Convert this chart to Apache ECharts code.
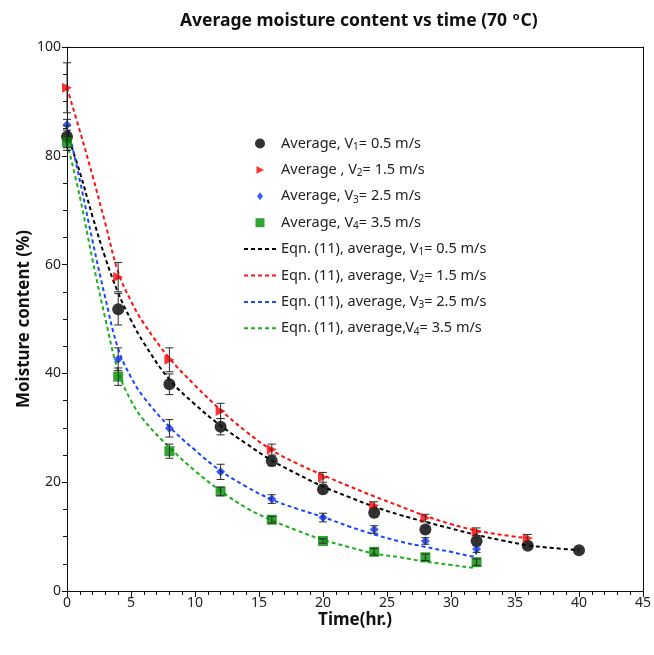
<!DOCTYPE html>
<html>
<head>
<meta charset="utf-8">
<script src="https://cdn.jsdelivr.net/npm/echarts@6/dist/echarts.min.js"></script>
<style>html,body{margin:0;padding:0;background:#fff;}#c{width:654px;height:655px;}</style>
</head>
<body>
<div id="c"></div>
<script>
// ---- measured data ----
const tV1 = [0, 4, 8, 12, 16, 20, 24, 28, 32, 36, 40];
const mV1 = [83.5, 51.8, 38.0, 30.2, 23.9, 18.7, 14.4, 11.3, 9.2, 8.3, 7.5];
const eV1 = [2.0, 2.9, 1.9, 1.5, 0.9, 0.8, 0.8, 0.5, 0.6, 0.4, 0.3];

const tV2 = [0, 4, 8, 12, 16, 20, 24, 28, 32, 36];
const mV2 = [92.5, 57.7, 42.5, 33.1, 26.0, 20.9, 15.7, 13.4, 10.9, 9.7];
const eV2 = [4.6, 2.7, 2.2, 1.4, 1.0, 0.9, 0.7, 0.7, 0.7, 0.7];

const tV3 = [0, 4, 8, 12, 16, 20, 24, 28, 32];
const mV3 = [85.7, 42.6, 29.9, 21.9, 16.9, 13.5, 11.3, 9.2, 7.7];
const eV3 = [1.0, 2.1, 1.6, 1.4, 0.8, 0.8, 0.7, 0.6, 0.6];

const tV4 = [0, 4, 8, 12, 16, 20, 24, 28, 32];
const mV4 = [82.5, 39.4, 25.7, 18.3, 13.1, 9.2, 7.2, 6.2, 5.3];
const eV4 = [1.5, 1.6, 1.3, 0.8, 0.6, 0.4, 0.6, 0.6, 0.6];

// ---- fitted curves (Eqn. 11) ----
const fT1 = [0, 1, 2, 3, 4, 5, 6, 8, 10, 12, 14, 16, 18, 20, 22, 24, 26, 28, 30, 32, 34, 36, 38, 40];
const fV1 = [84.2, 77.0, 68.8, 61.2, 54.8, 49.8, 45.6, 38.9, 34.3, 30.4, 27.1, 24.0, 21.5, 19.2, 17.3, 15.5, 14.0, 12.7, 11.5, 10.3, 9.3, 8.4, 7.9, 7.5];

const fT2 = [0, 1, 2, 3, 4, 5, 6, 8, 10, 12, 14, 16, 18, 20, 22, 24, 26, 28, 30, 32, 34, 36];
const fV2 = [92.5, 84.6, 76.3, 67.5, 58.6, 53.3, 49.2, 42.8, 37.8, 33.3, 29.3, 25.9, 23.4, 21.3, 19.3, 17.4, 15.6, 13.8, 12.3, 11.1, 10.3, 9.7];

const fT3 = [0, 1, 2, 3, 4, 5, 6, 8, 10, 12, 14, 16, 18, 20, 22, 24, 26, 28, 30, 31.8, 32];
const fV3 = [86.0, 75.5, 64.3, 53.8, 44.5, 39.3, 35.6, 30.2, 25.9, 22.1, 19.2, 16.8, 15.1, 13.6, 11.9, 10.4, 9.1, 8.1, 7.2, 6.4, 7.7];

const fT4 = [0, 1, 2, 3, 4, 5, 6, 8, 10, 12, 14, 16, 18, 20, 22, 24, 26, 28, 30, 31.8, 32];
const fV4 = [82.5, 72.5, 60.8, 50.0, 40.4, 35.0, 31.4, 26.4, 22.1, 18.4, 15.3, 13.0, 11.1, 9.4, 8.1, 6.9, 6.2, 5.4, 4.8, 4.3, 5.3];

// ---- legend text pieces ----
const legPre  = ['Average, V', 'Average , V', 'Average, V', 'Average, V',
                 'Eqn. (11), average, V', 'Eqn. (11), average, V', 'Eqn. (11), average, V', 'Eqn. (11), average,V'];
const legSub  = ['1', '2', '3', '4', '1', '2', '3', '4'];
const legPost = ['= 0.5 m/s', '= 1.5 m/s', '= 2.5 m/s', '= 3.5 m/s', '= 0.5 m/s', '= 1.5 m/s', '= 2.5 m/s', '= 3.5 m/s'];
const names = legPre.map((p, i) => p + legSub[i] + legPost[i] + (i >= 4 ? ' ' : ''));

const FONT = 'Noto Sans';
const zip = (a, b) => a.map((v, i) => [v, b[i]]);
const errData = (t, m, e) => t.map((v, i) => [v, m[i] - e[i], m[i] + e[i]]);

function errRender(params, api) {
  const x = api.value(0), lo = api.value(1), hi = api.value(2);
  const p1 = api.coord([x, lo]), p2 = api.coord([x, hi]);
  const w = 4, st = {stroke: '#2a2a2a', lineWidth: 1};
  return {type: 'group', children: [
    {type: 'line', shape: {x1: p1[0], y1: p1[1], x2: p2[0], y2: p2[1]}, style: st},
    {type: 'line', shape: {x1: p1[0] - w, y1: p1[1], x2: p1[0] + w, y2: p1[1]}, style: st},
    {type: 'line', shape: {x1: p2[0] - w, y1: p2[1], x2: p2[0] + w, y2: p2[1]}, style: st}
  ]};
}

// legend icons (padded 12x12 boxes so they keep a small, square size)
const legIcons = [
  'path://M0,0M12,12M1,6A5,5,0,1,1,11,6A5,5,0,1,1,1,6Z',
  'path://M0,0M12,12M2.5,2.2L10,6L2.5,9.8Z',
  'path://M0,0M12,12M6,2L9,6L6,10L3,6Z',
  'path://M0,0M12,12M1.5,1.5L10.5,1.5L10.5,10.5L1.5,10.5Z'
];

const mk = [
  {t: tV1, m: mV1, e: eV1, color: '#000000', symbol: 'circle', size: 12, rot: 0},
  {t: tV2, m: mV2, e: eV2, color: '#ff0000', symbol: 'triangle', size: 10, rot: -90},
  {t: tV3, m: mV3, e: eV3, color: '#0a32ff', symbol: 'diamond', size: 9, rot: 0},
  {t: tV4, m: mV4, e: eV4, color: '#008c00', symbol: 'rect', size: 10, rot: 0}
];
const fits = [
  {t: fT1, v: fV1, color: '#000000'},
  {t: fT2, v: fV2, color: '#ff1010'},
  {t: fT3, v: fV3, color: '#1a46ff'},
  {t: fT4, v: fV4, color: '#1cb01c'}
];

const series = [];
fits.forEach((f, i) => {
  series.push({
    name: names[4 + i], type: 'line', data: zip(f.t, f.v), smooth: 0.4,
    symbol: 'none', z: 2,
    lineStyle: {color: f.color, width: 2, type: [4, 3]},
    itemStyle: {color: f.color}
  });
});
mk.forEach((s, i) => {
  series.push({
    name: names[i], type: 'scatter', data: zip(s.t, s.m), symbol: s.symbol,
    symbolSize: s.size, symbolRotate: s.rot, z: 3,
    itemStyle: {color: s.color}
  });
  series.push({
    type: 'custom', renderItem: errRender, data: errData(s.t, s.m, s.e),
    encode: {x: 0, y: [1, 2]}, z: 4, silent: true
  });
});

const legendData = names.map((n, i) => i < 4
  ? {name: n, icon: legIcons[i], symbolRotate: 0}
  : {name: n, itemStyle: {color: 'rgba(0,0,0,0)', borderWidth: 0}});

const chart = echarts.init(document.getElementById('c'), null, {renderer: 'canvas'});
chart.setOption({
  animation: false,
  backgroundColor: '#ffffff',
  title: {
    text: '{b|Average moisture content vs time (70 }{sup|o}{b|C)}',
    left: 175, top: 6,
    textStyle: {
      rich: {
        b: {fontFamily: FONT, fontSize: 17.5, fontWeight: 'bold', color: '#111'},
        sup: {fontFamily: FONT, fontSize: 11, fontWeight: 'bold', color: '#111', padding: [0, 1, 10, 1]}
      }
    }
  },
  grid: {left: 67, right: 9, top: 47, bottom: 64, containLabel: false},
  legend: {
    orient: 'vertical', left: 238, top: 131,
    itemWidth: 32, itemHeight: 12, itemGap: 10.4,
    symbolKeepAspect: true,
    data: legendData,
    formatter: function (name) {
      const i = names.indexOf(name);
      return '{t|' + legPre[i] + '}{s|' + legSub[i] + '}{t|' + legPost[i] + '}';
    },
    textStyle: {
      rich: {
        t: {fontFamily: FONT, fontSize: 14.5, color: '#222'},
        s: {fontFamily: FONT, fontSize: 10, color: '#222', padding: [7, 0, 0, 0]}
      }
    }
  },
  xAxis: [{
    type: 'value', min: 0, max: 45, interval: 5,
    name: 'Time(hr.)', nameLocation: 'middle', nameGap: 21, nameMoveOverlap: false,
    nameTextStyle: {fontFamily: FONT, fontSize: 17, fontWeight: 'bold', color: '#111', verticalAlign: 'top'},
    axisLine: {show: true, lineStyle: {color: '#111', width: 1}},
    axisTick: {show: true, length: 6, lineStyle: {color: '#111'}},
    minorTick: {show: true, splitNumber: 5, length: 4, lineStyle: {color: '#111'}},
    axisLabel: {fontFamily: FONT, fontSize: 14, color: '#222', margin: 5},
    splitLine: {show: false}
  }, {
    type: 'value', min: 0, max: 45, position: 'top',
    axisLine: {show: true, onZero: false, lineStyle: {color: '#111', width: 1}},
    axisTick: {show: false}, axisLabel: {show: false}, splitLine: {show: false}
  }],
  yAxis: [{
    type: 'value', min: 0, max: 100, interval: 20,
    name: 'Moisture content (%)', nameLocation: 'middle', nameGap: 34, nameMoveOverlap: false,
    nameTextStyle: {fontFamily: FONT, fontSize: 17, fontWeight: 'bold', color: '#111'},
    axisLine: {show: true, lineStyle: {color: '#111', width: 1}},
    axisTick: {show: true, length: 5, lineStyle: {color: '#111'}},
    minorTick: {show: true, splitNumber: 4, length: 4, lineStyle: {color: '#111'}},
    axisLabel: {fontFamily: FONT, fontSize: 14, color: '#222', margin: 6},
    splitLine: {show: false}
  }, {
    type: 'value', min: 0, max: 100, position: 'right',
    axisLine: {show: true, onZero: false, lineStyle: {color: '#111', width: 1}},
    axisTick: {show: false}, axisLabel: {show: false}, splitLine: {show: false}
  }],
  series: series
});
</script>
</body>
</html>
